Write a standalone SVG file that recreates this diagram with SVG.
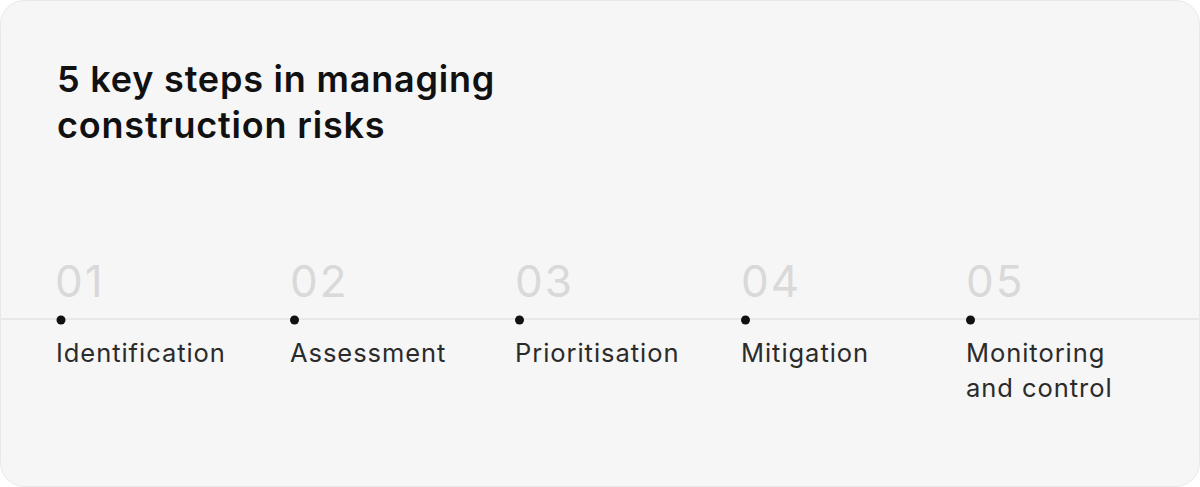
<svg xmlns="http://www.w3.org/2000/svg" width="1200" height="487" viewBox="0 0 1200 487">
<style>
.title{font-family:Inter,"Liberation Sans",sans-serif;font-weight:600;font-size:36px;fill:#111;letter-spacing:0.8px}
.num{font-family:Inter,"Liberation Sans",sans-serif;font-weight:400;font-size:44px;fill:#d9d9d9;letter-spacing:2px}
.lbl{font-family:Inter,"Liberation Sans",sans-serif;font-weight:400;font-size:25.5px;fill:#2b2b2b;letter-spacing:0.95px}
.dot{fill:#111}
</style>
<rect x="0" y="0" width="1200" height="487" fill="#ffffff"/>
<rect x="0.5" y="0.5" width="1199" height="486" rx="24" fill="#f6f6f6" stroke="#e8e8e8"/>
<text class="title" x="57" y="92">5 key steps in managing</text>
<text class="title" x="57" y="138">construction risks</text>
<g id="connectors"><line x1="1" y1="319" x2="1199" y2="319" stroke="#e3e3e3" stroke-width="1.5"/></g>
<g id="step1"><text class="num" x="55" y="297">01</text><circle class="dot" cx="61" cy="320" r="4.5"/><text class="lbl" x="56" y="362">Identification</text></g>
<g id="step2"><text class="num" x="290" y="297">02</text><circle class="dot" cx="294.5" cy="320" r="4.5"/><text class="lbl" x="290" y="362">Assessment</text></g>
<g id="step3"><text class="num" x="515" y="297">03</text><circle class="dot" cx="519.5" cy="320" r="4.5"/><text class="lbl" x="515" y="362">Prioritisation</text></g>
<g id="step4"><text class="num" x="741" y="297">04</text><circle class="dot" cx="745.5" cy="320" r="4.5"/><text class="lbl" x="741" y="362">Mitigation</text></g>
<g id="step5"><text class="num" x="966" y="297">05</text><circle class="dot" cx="970.5" cy="320" r="4.5"/><text class="lbl" x="966" y="362">Monitoring</text><text class="lbl" x="966" y="397">and control</text></g>
</svg>
